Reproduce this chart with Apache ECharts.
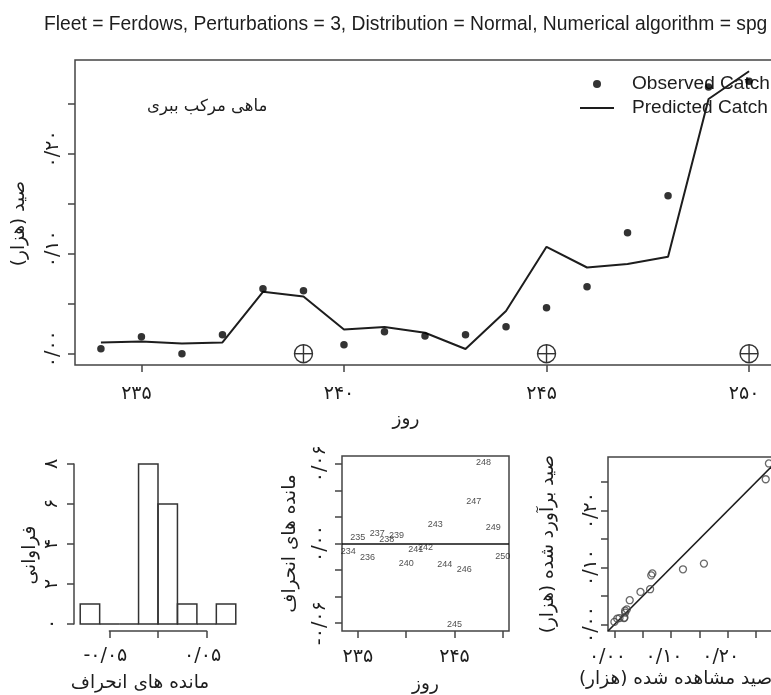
<!DOCTYPE html>
<html>
<head>
<meta charset="utf-8">
<script src="https://cdn.jsdelivr.net/npm/echarts@6/dist/echarts.min.js"></script>
<style>
  html, body { margin: 0; padding: 0; background: #fff; }
  #chart { width: 771px; height: 695px; }
</style>
</head>
<body>
<div id="chart"></div>
<script>
// Daily catch of the Ferdows fleet (thousands)
const days = [234, 235, 236, 237, 238, 239, 240, 241, 242, 243, 244, 245, 246, 247, 248, 249, 250];
const observedCatch = [0.005, 0.017, 0.000, 0.019, 0.065, 0.063, 0.009, 0.022, 0.0177, 0.019, 0.027, 0.046, 0.067, 0.121, 0.158, 0.267, 0.2727];
const predictedCatch = [0.0113, 0.0123, 0.0103, 0.0113, 0.062, 0.0573, 0.0243, 0.0267, 0.021, 0.0047, 0.0427, 0.107, 0.0863, 0.0897, 0.097, 0.255, 0.2827];
const perturbationDays = [239, 245, 250];

// Histogram breaks for the residuals
const histBreaks = [-0.08, -0.06, -0.04, -0.02, 0, 0.02, 0.04, 0.06, 0.08];

// Tick positions and labelled ticks
const catchTicks = [0, 0.05, 0.10, 0.15, 0.20, 0.25];
const catchLabels = [0, 0.10, 0.20];
const dayTicks = [235, 240, 245, 250];
const dayLabelsSmall = [235, 245];
const freqTicks = [0, 2, 4, 6, 8];
const residTicks = [-0.06, -0.04, -0.02, 0, 0.02, 0.04, 0.06];
const residLabels = [-0.06, 0, 0.06];
const histTicks = [-0.05, 0, 0.05];
const histLabels = [-0.05, 0.05];

const titleText = 'Fleet = Ferdows, Perturbations = 3, Distribution = Normal, Numerical algorithm = spg';
const speciesText = 'ماهی مرکب ببری';

// ---- derived quantities ----
const residuals = observedCatch.map((o, i) => +(o - predictedCatch[i]).toFixed(4));
const histCounts = histBreaks.slice(0, -1).map((a, i) => {
  const b = histBreaks[i + 1];
  return residuals.filter(r => (i === 0 ? r >= a - 1e-9 : r > a + 1e-9) && r <= b + 1e-9).length;
});
// quantile pairs: ordered observed against ordered predicted
const observedSorted = observedCatch.slice().sort((a, b) => a - b);
const predictedSorted = predictedCatch.slice().sort((a, b) => a - b);

// R-style axis range: data range widened by 4% on each side
function padRange(vals) {
  const lo = Math.min(...vals), hi = Math.max(...vals);
  const p = (hi - lo) * 0.04;
  return [lo - p, hi + p];
}
const catchRange = padRange(observedCatch.concat(predictedCatch));
const dayRange = padRange(days);
const residRange = padRange(residuals);
const histRange = padRange(histBreaks);

const FA_DIGITS = '۰۱۲۳۴۵۶۷۸۹';
function fa(v, d) {
  const s = Math.abs(v).toFixed(d).replace('.', '/').replace(/\d/g, c => FA_DIGITS[+c]);
  return (v < -1e-9 ? '-' : '') + s;
}

const INK = '#1d1d1d';
const BOX = '#444';
const LATIN = 'Liberation Sans, Arial, sans-serif';
const PERSIAN = 'DejaVu Sans, Noto Sans, sans-serif';

const noLine = { show: false, onZero: false };
function tickStyle(values) {
  return { show: true, inside: false, length: 7, customValues: values, lineStyle: { color: BOX, width: 1.5 } };
}
function labelStyle(values, d, margin, rotate, padding) {
  return {
    show: true, customValues: values, margin: margin, rotate: rotate || 0,
    fontFamily: PERSIAN, fontSize: 19, color: INK, padding: padding || 0,
    formatter: v => fa(v, d)
  };
}
function nameStyle(padding) {
  return { fontFamily: PERSIAN, fontSize: 18.5, color: INK, padding: padding || 0 };
}

// grid geometry (plot regions may run past the right edge of the canvas)
const gTop = { left: 75, top: 60, width: 700, height: 305 };
const gHist = { left: 74, top: 464, width: 168, height: 160 };
const hx = v => gHist.left + (v - histRange[0]) / (histRange[1] - histRange[0]) * gHist.width;
const gHistAxis = { left: hx(histTicks[0]), top: 630, width: hx(histTicks[2]) - hx(histTicks[0]), height: 1 };
const gResid = { left: 342, top: 456, width: 167, height: 175 };
const gScatter = { left: 608, top: 457, width: 173, height: 174 };

const base = { containLabel: false, outerBoundsMode: 'none' };
const boxed = g => Object.assign({ show: true, borderColor: BOX, borderWidth: 1.5, backgroundColor: 'transparent' }, base, g);
const plain = g => Object.assign({ show: false }, base, g);

const chart = echarts.init(document.getElementById('chart'), null, { renderer: 'canvas' });

const option = {
  animation: false,
  backgroundColor: '#fff',
  textStyle: { fontFamily: LATIN },
  title: [
    { text: titleText, left: 39, top: 10, textStyle: { fontFamily: LATIN, fontSize: 19.3, fontWeight: 'normal', color: INK } },
    { text: speciesText, left: 142, top: 93, textStyle: { fontFamily: PERSIAN, fontSize: 16.5, fontWeight: 'normal', color: INK } }
  ],
  legend: {
    orient: 'vertical', left: 574, top: 69, itemWidth: 34, itemHeight: 8, itemGap: 4,
    symbolKeepAspect: true,
    data: [
      { name: 'Observed Catch' },
      { name: 'Predicted Catch', itemStyle: { opacity: 0 } }
    ],
    textStyle: { fontFamily: LATIN, fontSize: 19.1, color: INK, lineHeight: 20, padding: [0, 0, 0, 13] }
  },
  grid: [boxed(gTop), plain(gHist), plain(gHistAxis), boxed(gResid), boxed(gScatter)],
  xAxis: [
    { // top: day
      gridIndex: 0, type: 'value', min: dayRange[0], max: dayRange[1],
      axisLine: noLine, splitLine: { show: false },
      axisTick: tickStyle(dayTicks),
      axisLabel: labelStyle(dayTicks, 0, 20, 0, [0, 10, 0, 0]),
      name: 'روز', nameLocation: 'middle', nameGap: 45, nameTextStyle: nameStyle([0, 38, 0, 0])
    },
    { // histogram bars (hidden scale)
      gridIndex: 1, type: 'value', min: histRange[0], max: histRange[1], show: false,
      axisLine: noLine
    },
    { // histogram axis
      gridIndex: 2, type: 'value', min: histTicks[0], max: histTicks[2],
      axisLine: { show: true, onZero: false, lineStyle: { color: BOX, width: 1.5 } }, splitLine: { show: false },
      axisTick: tickStyle(histTicks),
      axisLabel: labelStyle(histLabels, 2, 16, 0, [0, 8, 0, 0]),
      name: 'مانده های انحراف', nameLocation: 'middle', nameGap: 43, nameTextStyle: nameStyle([0, 36, 0, 0])
    },
    { // residuals: day
      gridIndex: 3, type: 'value', min: dayRange[0], max: dayRange[1],
      axisLine: noLine, splitLine: { show: false },
      axisTick: tickStyle(dayTicks),
      axisLabel: labelStyle(dayLabelsSmall, 0, 17),
      name: 'روز', nameLocation: 'middle', nameGap: 44, nameTextStyle: nameStyle()
    },
    { // ordered observed vs ordered predicted
      gridIndex: 4, type: 'value', min: catchRange[0], max: catchRange[1],
      axisLine: noLine, splitLine: { show: false },
      axisTick: tickStyle(catchTicks),
      axisLabel: labelStyle(catchLabels, 2, 17, 0, [0, 14, 0, 0]),
      name: 'صید مشاهده شده (هزار)', nameLocation: 'middle', nameGap: 39, nameTextStyle: nameStyle([0, 38, 0, 0])
    }
  ],
  yAxis: [
    {
      gridIndex: 0, type: 'value', min: catchRange[0], max: catchRange[1],
      axisLine: noLine, splitLine: { show: false },
      axisTick: tickStyle(catchTicks),
      axisLabel: labelStyle(catchLabels, 2, 12, 90, [0, 0, 0, 10]),
      name: 'صید (هزار)', nameLocation: 'middle', nameGap: 46, nameTextStyle: nameStyle([0, 22, 0, 0])
    },
    {
      gridIndex: 1, type: 'value', min: freqTicks[0], max: freqTicks[freqTicks.length - 1],
      axisLine: { show: true, onZero: false, lineStyle: { color: BOX, width: 1.5 } }, splitLine: { show: false },
      axisTick: tickStyle(freqTicks),
      axisLabel: labelStyle(freqTicks, 0, 12, 90),
      name: 'فراوانی', nameLocation: 'middle', nameGap: 34, nameTextStyle: nameStyle([0, 22, 0, 0])
    },
    { gridIndex: 2, type: 'value', show: false, axisLine: noLine },
    {
      gridIndex: 3, type: 'value', min: residRange[0], max: residRange[1],
      axisLine: noLine, splitLine: { show: false },
      axisTick: tickStyle(residTicks),
      axisLabel: labelStyle(residLabels, 2, 12, 90),
      name: 'مانده های انحراف', nameLocation: 'middle', nameGap: 42, nameTextStyle: nameStyle()
    },
    {
      gridIndex: 4, type: 'value', min: catchRange[0], max: catchRange[1],
      axisLine: noLine, splitLine: { show: false },
      axisTick: tickStyle(catchTicks),
      axisLabel: labelStyle(catchLabels, 2, 7, 90),
      name: 'صید برآورد شده (هزار)', nameLocation: 'middle', nameGap: 50, nameTextStyle: nameStyle()
    }
  ],
  series: [
    {
      name: 'Predicted Catch', type: 'line', xAxisIndex: 0, yAxisIndex: 0,
      data: days.map((d, i) => [d, predictedCatch[i]]),
      symbol: 'none', showSymbol: false, lineStyle: { color: INK, width: 2 }, itemStyle: { color: INK },
      z: 3
    },
    {
      name: 'Observed Catch', type: 'scatter', xAxisIndex: 0, yAxisIndex: 0,
      data: days.map((d, i) => [d, observedCatch[i]]),
      symbol: 'circle', symbolSize: 7.5, itemStyle: { color: '#000' }, z: 4
    },
    { // perturbation markers
      type: 'custom', xAxisIndex: 0, yAxisIndex: 0,
      data: perturbationDays.map(d => [d, 0]),
      renderItem: (params, api) => {
        const p = api.coord([api.value(0), api.value(1)]);
        const r = 9;
        const st = { fill: 'none', stroke: '#333', lineWidth: 1.4 };
        return {
          type: 'group', children: [
            { type: 'circle', shape: { cx: p[0], cy: p[1], r: r }, style: st },
            { type: 'line', shape: { x1: p[0] - r, y1: p[1], x2: p[0] + r, y2: p[1] }, style: st },
            { type: 'line', shape: { x1: p[0], y1: p[1] - r, x2: p[0], y2: p[1] + r }, style: st }
          ]
        };
      },
      z: 4
    },
    { // residual histogram
      type: 'custom', xAxisIndex: 1, yAxisIndex: 1,
      data: histCounts.map((c, i) => [histBreaks[i], histBreaks[i + 1], c]),
      encode: { x: [0, 1], y: 2 },
      renderItem: (params, api) => {
        const p0 = api.coord([api.value(0), api.value(2)]);
        const p1 = api.coord([api.value(1), 0]);
        return {
          type: 'rect',
          shape: { x: p0[0], y: p0[1], width: p1[0] - p0[0], height: p1[1] - p0[1] },
          style: { fill: 'none', stroke: '#333', lineWidth: 1.5 }
        };
      }
    },
    { // residuals labelled by day
      type: 'scatter', xAxisIndex: 3, yAxisIndex: 3,
      data: days.map((d, i) => [d, residuals[i], d]),
      symbolSize: 1, itemStyle: { color: 'rgba(0,0,0,0)' },
      label: { show: true, position: 'inside', formatter: p => String(p.value[2]), fontFamily: LATIN, fontSize: 9, color: '#222' },
      markLine: {
        silent: true, symbol: 'none', label: { show: false },
        lineStyle: { color: '#111', type: 'solid', width: 1.6 },
        data: [{ yAxis: 0 }]
      }
    },
    { // ordered observed vs ordered predicted
      type: 'scatter', xAxisIndex: 4, yAxisIndex: 4,
      data: observedSorted.map((o, i) => [o, predictedSorted[i]]),
      symbol: 'circle', symbolSize: 7,
      itemStyle: { color: 'rgba(255,255,255,0)', borderColor: '#444', borderWidth: 1.3 },
      z: 4
    },
    { // 1:1 reference line
      type: 'line', xAxisIndex: 4, yAxisIndex: 4,
      data: [[catchRange[0], catchRange[0]], [catchRange[1], catchRange[1]]],
      symbol: 'none', lineStyle: { color: INK, width: 1.6 }, z: 3
    }
  ]
};

chart.setOption(option);
</script>
</body>
</html>
